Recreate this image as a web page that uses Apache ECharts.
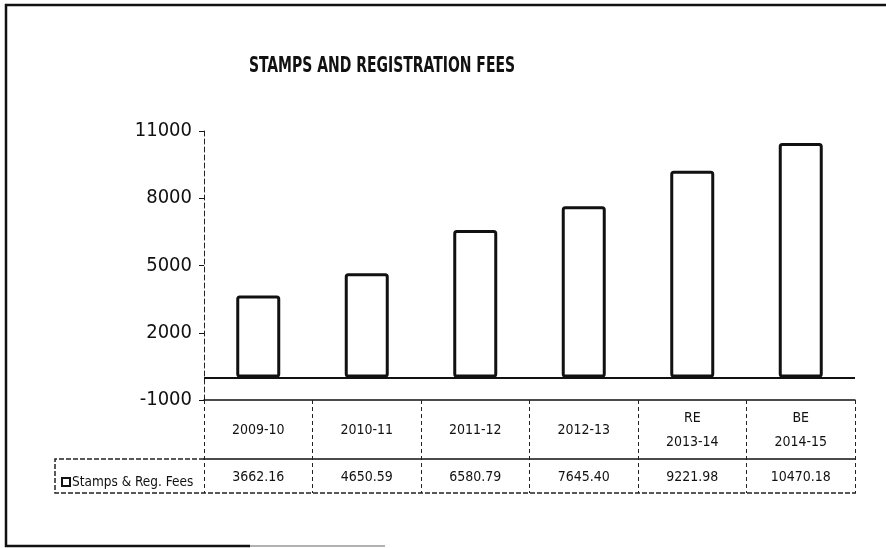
<!DOCTYPE html>
<html>
<head>
<meta charset="utf-8">
<script src="https://cdn.jsdelivr.net/npm/echarts@6/dist/echarts.min.js"></script>
<style>
  html, body { margin: 0; padding: 0; background: #fff; }
  #chart_content { width: 886px; height: 548px; }
</style>
</head>
<body>
<div id="chart_content"></div>
<script>
// data
const categories = ['2009-10', '2010-11', '2011-12', '2012-13', 'RE\n2013-14', 'BE\n2014-15'];
const feeValues = [3662.16, 4650.59, 6580.79, 7645.40, 9221.98, 10470.18];
const seriesName = 'Stamps & Reg. Fees';
const yTicks = [-1000, 2000, 5000, 8000, 11000];

const FONT = "'Liberation Sans Narrow', 'Arial Narrow', 'DejaVu Sans Condensed', sans-serif";

let barChart = {
    __dom: null,
    __chart: null,
    __option: {},
    initChart: function () {
        this.__dom = document.getElementById('chart_content');
        this.__chart = echarts.init(this.__dom);
        this.__option = {
            backgroundColor: '#fff',
            animation: false,
            legend: {
                left: 56,
                top: 470,
                icon: 'rect',
                itemWidth: 8,
                itemHeight: 8,
                itemGap: 2,
                selectedMode: false,
                itemStyle: { borderWidth: 2 },
                textStyle: {
                    fontFamily: FONT,
                    fontSize: 13.5,
                    color: '#111',
                    padding: [0, 0, 0, -3]
                },
                data: [seriesName]
            },
            grid: {
                left: 204,
                right: 31,
                top: 131,
                bottom: 148,
                containLabel: false
            },
            xAxis: [
                {
                    type: 'category',
                    position: 'bottom',
                    data: categories,
                    axisLine: {
                        onZero: false,
                        lineStyle: { color: '#111', width: 1.5 }
                    },
                    axisTick: {
                        show: true,
                        interval: 0,
                        length: 93,
                        lineStyle: { color: '#222', width: 1, type: [4, 3] }
                    },
                    axisLabel: {
                        interval: 0,
                        margin: 30,
                        verticalAlign: 'middle',
                        lineHeight: 24,
                        fontFamily: FONT,
                        fontSize: 14,
                        color: '#111'
                    },
                    splitLine: { show: false }
                },
                {
                    type: 'category',
                    position: 'bottom',
                    offset: 59,
                    data: categories,
                    axisLine: {
                        onZero: false,
                        lineStyle: { color: '#111', width: 1.5 }
                    },
                    axisTick: { show: false },
                    axisLabel: {
                        interval: 0,
                        margin: 18,
                        verticalAlign: 'middle',
                        fontFamily: FONT,
                        fontSize: 14,
                        color: '#111',
                        formatter: function (v, i) { return feeValues[i].toFixed(2); }
                    },
                    splitLine: { show: false }
                }
            ],
            yAxis: {
                type: 'value',
                min: yTicks[0],
                max: yTicks[yTicks.length - 1],
                interval: yTicks[1] - yTicks[0],
                axisLine: {
                    show: true,
                    lineStyle: { color: '#222', width: 1, type: [5, 3] }
                },
                axisTick: {
                    show: true,
                    length: 5,
                    lineStyle: { color: '#111', width: 1 }
                },
                axisLabel: {
                    margin: 12,
                    fontFamily: FONT,
                    fontSize: 20,
                    color: '#111',
                    formatter: function (v) { return String(v); }
                },
                splitLine: { show: false }
            },
            series: [
                {
                    name: seriesName,
                    type: 'bar',
                    xAxisIndex: 0,
                    barWidth: 44,
                    data: feeValues,
                    itemStyle: {
                        color: '#fff',
                        borderColor: '#111',
                        borderWidth: 3,
                        borderRadius: 2
                    },
                    markLine: {
                        silent: true,
                        symbol: 'none',
                        label: { show: false },
                        lineStyle: { color: '#111', width: 2, type: 'solid' },
                        data: [{ yAxis: 0 }]
                    }
                }
            ],
            graphic: [
                // title, squeezed to look like a narrow bold face
                {
                    type: 'text',
                    x: 382,
                    y: 67,
                    scaleX: 0.74,
                    style: {
                        text: 'STAMPS AND REGISTRATION FEES',
                        fontFamily: FONT,
                        fontWeight: 'bold',
                        fontSize: 21,
                        fill: '#111',
                        textAlign: 'center',
                        textVerticalAlign: 'middle'
                    }
                },
                // outer frame of the scanned page
                {
                    type: 'polyline',
                    shape: { points: [[886, 5], [6, 5], [6, 546], [250, 546]] },
                    style: { stroke: '#111', lineWidth: 2.5, fill: null }
                },
                {
                    type: 'line',
                    shape: { x1: 250, y1: 546, x2: 385, y2: 546 },
                    style: { stroke: '#999', lineWidth: 1.5 }
                },
                // left cell of the data table
                {
                    type: 'polyline',
                    shape: { points: [[204, 459], [55, 459], [55, 493], [856, 493]] },
                    style: { stroke: '#222', lineWidth: 1.5, lineDash: [5, 2], fill: null }
                }
            ]
        };
        this.__chart.setOption(this.__option);
    }
};

barChart.initChart();
</script>
</body>
</html>
